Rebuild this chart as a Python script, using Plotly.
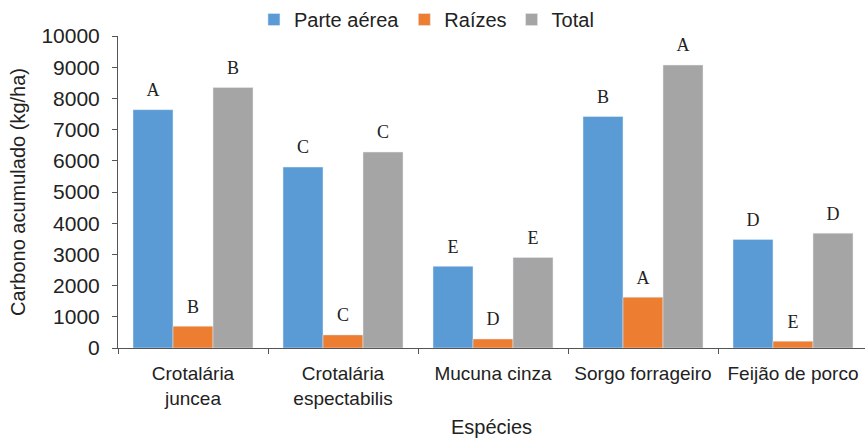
import plotly.graph_objects as go

# Données
especies = ["Crotalária<br>juncea", "Crotalária<br>espectabilis", "Mucuna cinza",
            "Sorgo forrageiro", "Feijão de porco"]
parte_aerea = [7640, 5800, 2620, 7420, 3480]
raizes = [700, 420, 290, 1630, 220]
total = [8350, 6280, 2900, 9070, 3680]

letras_aerea = ["A", "C", "E", "B", "D"]
letras_raizes = ["B", "C", "D", "A", "E"]
letras_total = ["B", "C", "E", "A", "D"]

yticks = list(range(0, 10001, 1000))

series = [
    ("Parte aérea", parte_aerea, letras_aerea, "#5B9BD5"),
    ("Raízes", raizes, letras_raizes, "#ED7D31"),
    ("Total", total, letras_total, "#A5A5A5"),
]

fig = go.Figure()
for nome, valores, letras, cor in series:
    fig.add_trace(go.Bar(
        name=nome,
        x=especies,
        y=valores,
        marker_color=cor,
        offsetgroup=nome,
    ))
    # lettres de significativité au-dessus des barres
    fig.add_trace(go.Scatter(
        x=especies,
        y=valores,
        mode="markers+text",
        marker=dict(size=13, opacity=0),
        text=letras,
        textposition="top center",
        textfont=dict(family="Liberation Serif", size=18, color="#222"),
        offsetgroup=nome,
        showlegend=False,
        cliponaxis=False,
        hoverinfo="skip",
    ))

fig.update_layout(
    barmode="group",
    bargap=0.2,
    bargroupgap=0,
    scattermode="group",
    scattergap=0.2,
    plot_bgcolor="white",
    paper_bgcolor="white",
    width=865,
    height=438,
    margin=dict(l=118, r=0, t=36, b=90, autoexpand=False),
    font=dict(family="Liberation Sans", size=20, color="#222"),
    legend=dict(
        orientation="h",
        xref="container", yref="container",
        x=0.493, xanchor="center",
        y=1.0, yanchor="top",
        font=dict(size=20),
        itemwidth=30,
        traceorder="normal",
    ),
    xaxis=dict(
        range=[-0.5, 4.48],
        automargin=False,
        showline=True, linecolor="#555", linewidth=1,
        ticks="outside", tickson="boundaries", ticklen=5, tickcolor="#555",
        ticklabelstandoff=8,
        tickfont=dict(size=19),
        title=dict(text="Espécies", font=dict(size=20), standoff=12),
    ),
    yaxis=dict(
        range=[0, 10000],
        automargin=False,
        tickvals=yticks,
        ticktext=[str(v) for v in yticks],
        showgrid=False,
        showline=True, linecolor="#555", linewidth=1,
        ticks="outside", ticklen=5, tickcolor="#555",
        ticklabelstandoff=8,
        tickfont=dict(size=21),
        zeroline=False,
        title=dict(text="Carbono acumulado (kg/ha)", font=dict(size=20), standoff=10),
    ),
)

fig.write_html("out.html", config={"displayModeBar": False},
               post_script="document.body.style.margin='0';")
